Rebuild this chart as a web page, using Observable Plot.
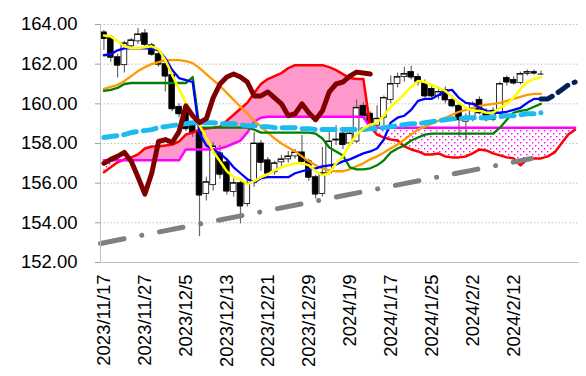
<!DOCTYPE html>
<html><head><meta charset="utf-8">
<script src="https://cdn.jsdelivr.net/npm/d3@7"></script>
<script src="https://cdn.jsdelivr.net/npm/@observablehq/plot@0.6"></script>
<style>body{margin:0;background:#fff;}</style>
</head><body><div id="chart"></div>
<script>
// x tick labels (every 6 trading days)
const xTickIdx = [0,6,12,18,24,30,36,42,48,54,60];
const xLabels = ["2023/11/17","2023/11/27","2023/12/5","2023/12/13","2023/12/21","2023/12/29","2024/1/9","2024/1/17","2024/1/25","2024/2/2","2024/2/12"];
const yTicks = [152,154,156,158,160,162,164];

// candles (index 0 = 2023/11/17)
const open = [163.6,163.35,162.35,161.95,162.9,163.15,163.55,162.95,162.5,162.0,
161.45,159.85,159.55,158.9,158.6,155.45,155.9,157.5,157.05,155.55,
156.0,154.95,156.0,158.0,157.15,156.55,157.05,157.2,157.35,157.55,
157.1,156.3,155.45,156.5,158.15,158.5,158.0,158.1,159.9,159.5,
158.9,159.3,160.2,161.0,161.35,161.6,161.35,161.05,160.75,160.4,
160.7,160.2,159.9,159.1,159.25,160.2,159.6,159.2,159.5,161.3,
161.2,161.05,161.5,161.6,161.5];
const high = [163.7,163.45,162.5,163.15,163.3,163.8,163.75,163.05,162.6,162.1,
161.5,160.0,159.8,159.05,158.75,156.3,158.05,157.9,157.15,156.25,
156.1,156.2,158.55,158.15,157.3,157.1,157.4,157.6,157.7,158.4,
157.2,156.4,157.8,158.75,158.9,158.6,158.7,160.2,160.05,159.6,
159.9,160.4,161.4,161.55,161.85,161.9,161.5,161.2,160.9,160.85,
160.85,160.4,160.0,159.5,160.1,160.35,159.75,159.8,161.1,161.4,
161.35,161.6,161.7,161.7,161.65];
const low = [162.7,162.1,161.3,161.55,162.75,163.0,162.9,162.4,161.85,160.6,
159.6,159.3,158.6,158.3,153.3,155.1,155.6,156.2,155.4,155.3,
153.95,154.8,155.8,156.6,156.3,156.4,156.8,157.0,157.2,156.9,
156.1,155.2,155.3,156.4,157.9,157.7,157.85,158.0,159.2,158.6,
158.7,158.9,160.0,160.8,161.1,161.2,160.9,160.3,160.2,160.2,
160.0,159.8,158.3,158.15,159.1,159.45,159.1,159.1,159.3,160.9,
160.95,160.95,161.4,161.45,161.45];
const close = [163.3,162.35,161.95,163.05,163.2,163.5,163.0,162.5,162.0,161.4,
159.75,159.5,158.75,158.55,155.4,156.05,157.85,156.45,155.6,156.0,
154.85,156.0,158.0,157.05,156.5,157.0,157.2,157.35,157.55,157.1,
156.3,155.45,156.5,158.1,158.2,157.95,158.5,159.8,159.4,159.0,
159.25,160.3,161.0,161.35,161.5,161.35,161.1,160.4,160.4,160.6,
160.2,159.9,159.2,159.25,160.0,159.55,159.2,159.65,161.0,161.1,
161.05,161.5,161.6,161.55,161.5];

// lines (start at index 0)
const yellowLine = [163.45,163.4,163.15,162.9,162.8,162.8,162.85,162.9,162.75,162.2,
161.45,160.75,160.05,159.4,158.9,158.3,157.6,157.1,156.6,156.3,
156.2,155.95,156.1,156.3,156.45,156.65,156.8,156.9,157.0,157.0,
156.9,156.6,156.4,156.5,157.0,157.35,157.95,158.45,158.75,158.95,
159.05,159.4,159.85,160.15,160.5,160.85,161.15,161.1,160.95,160.8,
160.65,160.35,160.05,159.8,159.65,159.65,159.55,159.55,159.8,160.0,
160.3,160.75,161.1,161.25,161.35];
const blueLine = [162.45,162.5,162.7,162.8,162.8,162.8,162.8,162.8,162.7,162.3,
161.7,161.3,161.2,161.1,158.5,157.9,157.7,157.5,157.2,156.8,
156.5,156.2,156.05,156.25,156.3,156.3,156.3,156.3,156.5,156.6,
156.7,156.75,156.85,156.9,156.95,157.1,157.2,157.35,157.5,157.6,
157.75,158.2,159.05,159.3,159.4,159.7,160.15,160.25,160.25,160.45,
160.65,160.7,160.3,160.05,160.0,159.8,159.65,159.55,159.55,159.6,
159.7,159.8,160.05,160.25,160.25];
const greenLine = [160.65,160.7,160.8,161.0,161.05,161.05,161.05,161.05,161.05,161.05,
161.05,161.05,161.05,161.35,158.8,158.8,158.8,158.8,158.8,158.8,
158.8,158.8,158.7,158.55,158.55,158.55,158.55,158.55,158.55,158.55,
158.55,158.5,158.25,157.8,157.6,157.4,156.8,156.7,156.7,156.75,
156.9,157.15,157.55,157.75,157.9,158.15,158.3,158.45,158.5,158.5,
158.5,158.5,158.5,158.5,158.5,158.5,158.5,158.5,158.8,159.2,
159.55,159.65,159.7,159.85,160.0];
const orangeLine = [160.75,160.85,160.95,161.15,161.4,161.65,161.85,162.0,162.1,162.2,
162.2,162.2,162.15,162.05,161.8,161.5,161.2,160.9,160.55,160.2,
159.85,159.5,159.15,158.85,158.55,158.25,158.0,157.8,157.6,157.35,
157.1,156.9,156.75,156.65,156.6,156.6,156.7,156.85,157.0,157.2,
157.35,157.55,157.75,157.95,158.2,158.45,158.7,158.85,159.0,159.15,
159.3,159.45,159.6,159.7,159.8,159.9,159.95,160.0,160.05,160.15,
160.25,160.35,160.45,160.5,160.5];
const cyanLine = [158.3,158.35,158.4,158.45,158.55,158.6,158.65,158.7,158.8,158.85,
158.9,158.95,159.0,159.05,159.05,159.05,159.05,159.0,159.0,159.0,
158.95,158.9,158.9,158.85,158.85,158.8,158.8,158.8,158.8,158.75,
158.75,158.7,158.7,158.7,158.7,158.7,158.7,158.7,158.7,158.75,
158.75,158.8,158.85,158.9,158.95,159.0,159.0,159.05,159.1,159.15,
159.2,159.25,159.25,159.3,159.3,159.3,159.3,159.35,159.35,159.4,
159.4,159.45,159.5,159.5,159.55];
// lagging span (index 0..39)
const chikou = [157.0,157.2,157.35,157.55,157.1,156.3,155.45,156.5,158.1,158.2,
158.05,158.6,159.9,159.4,159.05,159.25,160.3,161.0,161.35,161.5,
161.35,161.1,160.4,160.4,160.6,160.3,160.0,159.4,159.5,160.0,
159.55,159.2,159.65,160.6,161.0,161.1,161.4,161.6,161.55,161.5];
// leading spans (index 0..69)
const spanA = [156.55,156.8,157.05,157.2,157.3,157.45,157.75,157.85,157.85,157.9,
157.95,158.1,158.45,158.55,158.7,158.75,158.8,158.85,159.15,159.45,
159.75,160.05,160.55,161.0,161.25,161.4,161.55,161.8,161.95,161.95,
161.95,161.95,161.95,161.85,161.7,161.5,161.3,161.25,161.25,158.85,
158.45,158.3,158.2,158.15,157.85,157.7,157.6,157.45,157.45,157.5,
157.35,157.3,157.3,157.35,157.5,157.7,157.65,157.5,157.4,157.3,
157.25,156.9,157.2,157.25,157.25,157.35,157.55,158.0,158.45,158.7];
const spanB = [157.15,157.15,157.15,157.15,157.15,157.15,157.15,157.15,157.15,157.15,
157.15,157.15,157.7,157.7,157.7,157.7,157.7,157.75,157.85,158.0,
158.15,158.55,159.1,159.3,159.35,159.35,159.35,159.35,159.35,159.35,
159.35,159.35,159.35,159.35,159.35,159.35,159.35,159.35,159.35,158.8,
158.8,158.8,158.8,158.8,158.8,158.8,158.8,158.8,158.8,158.8,
158.8,158.8,158.8,158.8,158.8,158.8,158.8,158.8,158.8,158.8,
158.8,158.8,158.8,158.8,158.8,158.8,158.8,158.8,158.8,158.8];
// projected line (index 64..69)
const navyStart = 64;
const navyLine = [160.25,160.25,160.45,160.7,160.95,161.1];
// trend line end points
const trendIdx = [-0.5, 62.6];
const trendVal = [152.96, 157.24];

const candles = open.map((o,k)=>({i:k, open:o, high:high[k], low:low[k], close:close[k]}));
const series = (arr, start=0) => arr.map((v,k)=>({i:k+start, v}));
const cloud = spanA.map((a,k)=>({i:k, a, b:spanB[k]}));
const trend = trendIdx.map((t,k)=>({i:t, v:trendVal[k]}));
const labelOf = new Map(xTickIdx.map((t,k)=>[t, xLabels[k]]));
const W = 0.42;

const ln = (arr, opts, start=0) => Plot.line(series(arr,start), {x:"i", y:"v", strokeLinejoin:"round", ...opts});

const chart = Plot.plot({
  width:586, height:376,
  marginLeft:100, marginRight:8, marginTop:24, marginBottom:114,
  x:{type:"linear", domain:[-0.5,69.5], label:null},
  y:{domain:[152,164], label:null},
  style:{fontFamily:"'Liberation Sans', Arial, sans-serif", fontSize:"18.5px", background:"#fff", color:"#000", overflow:"visible"},
  marks:[
    Plot.ruleY(yTicks.filter(t=>t>152), {stroke:"#c0c0c0", strokeDasharray:"1.5 2"}),
    Plot.areaY(cloud, {x:"i", y1:"b", y2:d=>Math.max(d.a,d.b), fill:"#ff99cc"}),
    Plot.areaY(cloud, {x:"i", y1:d=>Math.min(d.a,d.b), y2:"b", fill:"url(#dots)"}),
    Plot.ruleX(candles, {x:"i", y1:"low", y2:"high", stroke:"#666", strokeWidth:1.2}),
    Plot.rect(candles.filter(d=>d.close>=d.open), {x1:d=>d.i-W, x2:d=>d.i+W, y1:"open", y2:"close", fill:"#fff", stroke:"#000", strokeWidth:0.8}),
    Plot.rect(candles.filter(d=>d.close<d.open), {x1:d=>d.i-W, x2:d=>d.i+W, y1:"open", y2:"close", fill:"#000", stroke:"#000", strokeWidth:0.8}),
    Plot.ruleY(candles, {y:"close", x1:d=>d.i-W, x2:d=>d.i+W, stroke:"#000", strokeWidth:1}),
    ln(spanA, {stroke:"#ff0000", strokeWidth:2.5}),
    ln(spanB, {stroke:"#ff00ff", strokeWidth:2.5}),
    Plot.line(trend, {x:"i", y:"v", stroke:"#808080", strokeWidth:5, strokeDasharray:"24 18 0.1 18", strokeLinecap:"round"}),
    ln(orangeLine, {stroke:"#ff9900", strokeWidth:2.3}),
    ln(greenLine, {stroke:"#008000", strokeWidth:2.3}),
    ln(blueLine, {stroke:"#0000ff", strokeWidth:2.3}),
    ln(cyanLine, {stroke:"#1ebbee", strokeWidth:5, strokeDasharray:"13 7"}),
    ln(yellowLine, {stroke:"#ffff00", strokeWidth:2.5}),
    ln(chikou, {stroke:"#800000", strokeWidth:5}),
    ln(navyLine, {stroke:"#002060", strokeWidth:5, strokeDasharray:"12 7"}, navyStart),
    Plot.frame({anchor:"left", stroke:"#bfbfbf"}),
    Plot.frame({anchor:"bottom", stroke:"#bfbfbf"}),
    Plot.axisY({ticks:yTicks, tickFormat:d=>d.toFixed(2), tickSize:5, tickPadding:18, stroke:"#a0a0a0", fill:"#000", fontSize:18.5, label:null}),
    Plot.axisX({ticks:xTickIdx, tickFormat:d=>labelOf.get(d), tickRotate:-90, tickSize:0, tickPadding:12, fill:"#000", fontSize:18.5, label:null})
  ]
});

// dotted fill pattern
const ns = "http://www.w3.org/2000/svg";
const defs = document.createElementNS(ns, "defs");
defs.innerHTML = '<pattern id="dots" width="6" height="6" patternUnits="userSpaceOnUse">' +
  '<rect width="6" height="6" fill="#fff"/>' +
  '<rect x="1" y="1" width="1.4" height="1.4" fill="#ff00ff"/>' +
  '<rect x="4" y="4" width="1.4" height="1.4" fill="#ff00ff"/></pattern>';
chart.insertBefore(defs, chart.firstChild);
document.getElementById("chart").appendChild(chart);
</script></body></html>
